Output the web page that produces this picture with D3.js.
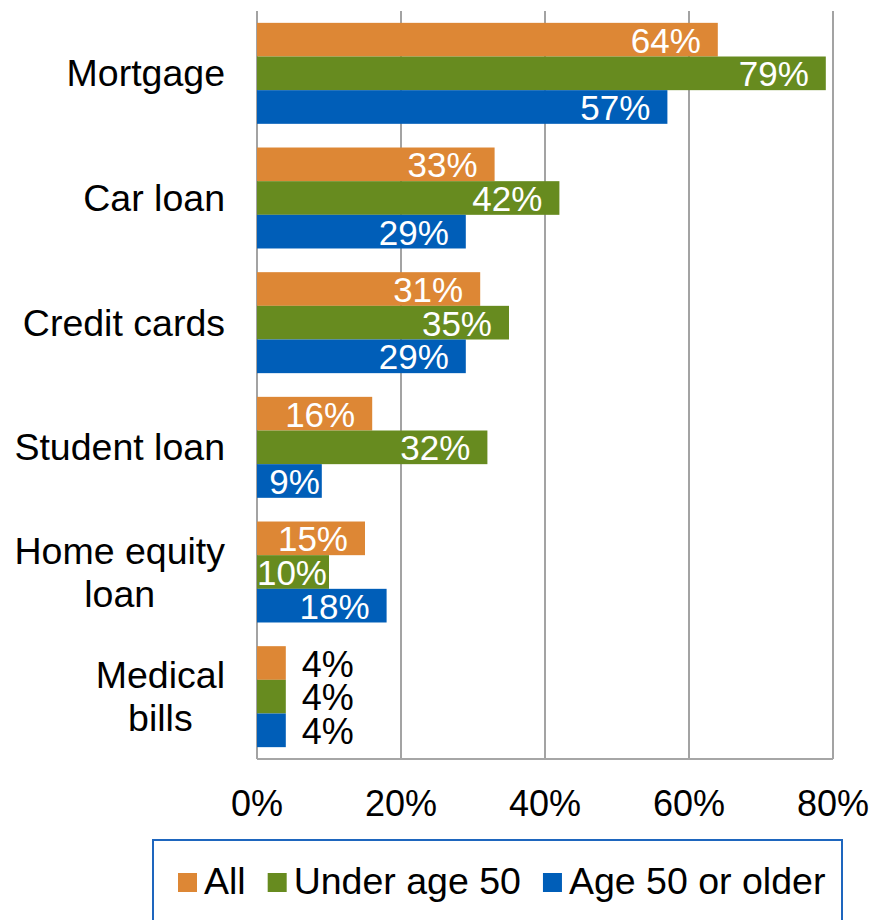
<!DOCTYPE html>
<html>
<head>
<meta charset="utf-8">
<script src="https://cdn.jsdelivr.net/npm/d3@7"></script>
<style>
  html, body { margin: 0; padding: 0; background: #fff; }
  svg { display: block; font-family: "Liberation Sans", Arial, sans-serif; }
</style>
</head>
<body>
<svg id="chart" width="871" height="920"></svg>
<script>
// === Data ===
const categories = ['Mortgage', 'Car loan', 'Credit cards', 'Student loan', 'Home equity\nloan', 'Medical\nbills'];
const seriesNames = ['All', 'Under age 50', 'Age 50 or older'];
const allValues = [64, 33, 31, 16, 15, 4];
const under50Values = [79, 42, 35, 32, 10, 4];
const over50Values = [57, 29, 29, 9, 18, 4];
const xTicks = [0, 20, 40, 60, 80];

const COLORS = ['#DD8735', '#678B1F', '#005EB8'];
const GRID = '#8C8C8C';

// === Layout ===
const PLOT = { left: 257, right: 833, top: 11, bottom: 759 };

const svg = d3.select('#chart');

const x = d3.scaleLinear().domain([0, 80]).range([PLOT.left, PLOT.right]);
const y = d3.scaleBand().domain(categories).range([PLOT.top, PLOT.bottom])
  .paddingInner(0.19).paddingOuter(0.095);
const ySub = d3.scaleBand().domain(seriesNames).range([0, y.bandwidth()]);
const color = d3.scaleOrdinal().domain(seriesNames).range(COLORS);

const rows = categories.map((c, i) => ({
  cat: c,
  vals: [allValues[i], under50Values[i], over50Values[i]]
}));

// --- gridlines ---
svg.append('g')
  .selectAll('line')
  .data(xTicks)
  .join('line')
  .attr('x1', d => x(d)).attr('x2', d => x(d))
  .attr('y1', PLOT.top).attr('y2', PLOT.bottom)
  .attr('stroke', GRID)
  .attr('stroke-width', 1.6);

// bottom axis line
svg.append('line')
  .attr('x1', PLOT.left).attr('x2', PLOT.right)
  .attr('y1', PLOT.bottom).attr('y2', PLOT.bottom)
  .attr('stroke', '#A6A6A6')
  .attr('stroke-width', 2);

// --- tick labels ---
svg.append('g')
  .selectAll('text')
  .data(xTicks)
  .join('text')
  .attr('x', d => x(d))
  .attr('y', 816)
  .attr('text-anchor', 'middle')
  .attr('font-size', 36)
  .attr('fill', '#000')
  .text(d => d + '%');

// --- bars ---
const groups = svg.append('g')
  .selectAll('g')
  .data(rows)
  .join('g')
  .attr('transform', d => `translate(0,${y(d.cat)})`);

const bars = groups.selectAll('g.bar')
  .data(d => d.vals.map((v, j) => ({ v, s: seriesNames[j] })))
  .join('g')
  .attr('class', 'bar');

bars.append('rect')
  .attr('x', x(0))
  .attr('y', d => ySub(d.s))
  .attr('width', d => x(d.v) - x(0))
  .attr('height', ySub.bandwidth())
  .attr('fill', d => color(d.s));

// --- data labels ---
bars.each(function (d) {
  const g = d3.select(this);
  const w = x(d.v) - x(0);
  const cy = ySub(d.s) + ySub.bandwidth() / 2;
  if (w < 40) {
    // too small: label outside, black
    g.append('text')
      .attr('x', x(d.v) + 16)
      .attr('y', cy)
      .attr('dy', '0.38em')
      .attr('font-size', 36)
      .attr('fill', '#000')
      .text(d.v + '%');
  } else {
    const t = g.append('text')
      .attr('y', cy)
      .attr('dy', '0.37em')
      .attr('font-size', 35)
      .attr('fill', '#fff')
      .attr('text-anchor', 'end')
      .text(d.v + '%');
    const tw = t.node().getComputedTextLength();
    const pad = (w - tw < 20) ? 2 : 17;
    t.attr('x', x(d.v) - pad);
  }
});

// --- category labels ---
const LABEL_RIGHT = 225, LINE_H = 43;
categories.forEach(c => {
  const lines = c.split('\n');
  const cy = y(c) + y.bandwidth() / 2;
  const txt = svg.append('text')
    .attr('font-size', 37.5)
    .attr('fill', '#000')
    .attr('text-anchor', 'middle');
  const spans = lines.map((ln, i) => txt.append('tspan')
    .attr('y', cy - (lines.length - 1) * LINE_H / 2 + i * LINE_H)
    .attr('dy', '0.35em')
    .text(ln));
  const maxW = d3.max(spans, s => s.node().getComputedTextLength());
  spans.forEach(s => s.attr('x', LABEL_RIGHT - maxW / 2));
});

// --- legend ---
svg.append('rect')
  .attr('x', 153).attr('y', 840)
  .attr('width', 689).attr('height', 100)
  .attr('fill', 'none')
  .attr('stroke', '#1E66BE')
  .attr('stroke-width', 2);

let lx = 178;
seriesNames.forEach(name => {
  svg.append('rect')
    .attr('x', lx).attr('y', 873)
    .attr('width', 19).attr('height', 19)
    .attr('fill', color(name));
  const t = svg.append('text')
    .attr('x', lx + 26)
    .attr('y', 894)
    .attr('font-size', 37.5)
    .attr('fill', '#000')
    .text(name);
  lx += 26 + t.node().getComputedTextLength() + 22;
});
</script>
</body>
</html>
